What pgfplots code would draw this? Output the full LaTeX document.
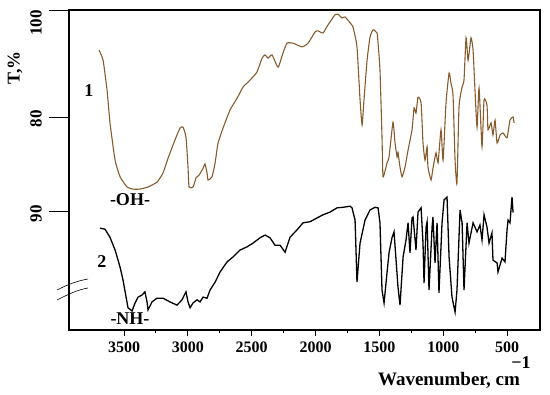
\documentclass[border=0pt]{standalone}
\usepackage{fontspec}
\setmainfont{Liberation Serif}
\usepackage{pgfplots}
\pgfplotsset{compat=1.18}
\definecolor{cbrown}{RGB}{135,92,45}
\begin{document}
\begin{tikzpicture}
\useasboundingbox (-69pt,-65pt) rectangle (481pt,330pt);
\begin{axis}[
  at={(0,0)}, anchor=south west,
  scale only axis, width=471pt, height=320pt,
  x dir=reverse,
  xmin=243, xmax=3931, ymin=40.35, ymax=100.2,
  enlargelimits=false, clip=false,
  xtick={500,1000,1500,2000,2500,3000,3500},
  xticklabels={500,1000,1500,2000,2500,3000,3500},
  minor x tick num=1,
  xtick pos=left, ytick=\empty,
  tick align=outside,
  major tick length=6pt, minor tick length=3pt,
  tick style={line width=1pt, black},
  xticklabel style={font=\bfseries\fontsize{16}{16}\selectfont, yshift=-2pt},
  axis line style={line width=1.6pt},
]
\addplot[cbrown, line width=1.1pt, smooth, tension=0.3] coordinates {
(3696,92.7)(3664,90.8)(3633,85.2)(3610,79.1)(3570,72.1)(3531,69.0)(3476,67.1)(3430,66.7)
(3375,66.7)(3312,67.1)(3242,68.0)(3195,69.7)(3155,72.5)(3101,75.9)(3062,78.1)(3038,78.3)
(3015,76.4)(2999,70.8)(2991,67.1)(2960,67.1)(2936,68.8)(2913,69.3)(2881,70.6)(2866,71.4)
(2850,69.7)(2842,68.4)(2811,69.0)(2787,71.6)(2764,75.3)(2725,78.1)(2670,81.5)(2615,83.7)
(2568,85.8)(2529,86.7)(2490,87.7)(2459,88.6)(2419,91.2)(2396,91.8)(2372,91.2)(2341,91.8)
(2294,89.5)(2255,92.2)(2224,94.0)(2177,94.0)(2106,93.3)(2059,94.0)(2004,96.1)(1981,96.3)
(1942,95.9)(1903,97.4)(1848,99.3)(1824,99.4)(1793,98.7)(1770,98.9)(1730,97.8)(1707,97.0)
(1676,93.3)(1652,83.4)(1636,78.7)(1621,83.4)(1597,90.8)(1574,95.1)(1550,96.5)(1519,95.9)
(1511,94.0)(1496,89.0)(1480,76.4)(1472,69.0)(1441,71.6)(1425,72.7)(1394,79.2)(1378,75.3)
(1362,72.7)(1355,73.6)(1339,70.8)(1323,69.0)(1300,70.8)(1276,74.0)(1245,77.8)(1229,81.9)
(1214,80.9)(1198,83.9)(1174,82.8)(1159,75.3)(1143,72.1)(1127,74.6)(1120,70.8)(1096,68.4)
(1081,70.6)(1057,73.5)(1041,71.6)(1018,77.8)(1002,72.1)(979,82.8)(955,88.4)(940,86.5)
(924,84.3)(908,72.1)(893,67.8)(877,82.1)(853,85.8)(838,87.1)(822,95.0)(806,90.8)
(783,95.0)(767,92.7)(752,85.2)(736,78.3)(720,85.6)(697,74.6)(681,83.4)(658,82.4)
(650,77.8)(626,79.1)(611,76.8)(595,79.6)(579,75.3)(556,76.8)(532,77.2)(501,76.3)
(478,79.6)(454,80.2)(446,79.1)
};
\addplot[black, line width=1.3pt] coordinates {
(3688,59.4)(3649,59.2)(3610,57.7)(3570,55.3)(3531,52.1)(3508,49.7)(3484,46.5)(3469,44.5)
(3437,43.9)(3414,45.4)(3390,46.5)(3359,46.9)(3336,47.5)(3320,45.6)(3312,44.1)(3281,45.6)
(3242,46.3)(3195,46.3)(3140,45.6)(3085,45.0)(3046,46.0)(3015,47.5)(2999,45.6)(2983,44.5)
(2960,45.4)(2928,46.0)(2905,45.6)(2881,46.5)(2850,46.3)(2827,47.8)(2787,49.3)(2748,51.2)
(2693,53.1)(2647,54.0)(2592,55.3)(2537,55.9)(2490,56.6)(2435,57.6)(2396,58.1)(2357,57.6)
(2318,56.2)(2278,56.2)(2239,54.9)(2200,57.7)(2145,59.1)(2098,60.4)(2044,60.6)(1989,61.3)
(1942,61.9)(1887,62.4)(1832,63.2)(1785,63.3)(1730,63.5)(1715,63.2)(1691,60.9)(1676,49.3)
(1652,56.6)(1613,60.9)(1574,62.8)(1535,63.3)(1511,63.2)(1496,60.4)(1480,47.8)(1464,45.4)
(1441,51.0)(1425,54.8)(1402,57.6)(1386,58.7)(1370,53.4)(1355,48.4)(1339,45.0)(1323,51.0)
(1315,54.0)(1292,57.2)(1276,60.4)(1261,54.8)(1245,61.3)(1237,61.5)(1214,55.3)(1198,62.4)
(1174,63.2)(1159,56.6)(1151,49.1)(1135,59.6)(1127,60.6)(1112,47.8)(1088,59.6)(1081,61.5)
(1065,52.9)(1049,60.4)(1034,47.3)(1010,60.4)(994,64.7)(971,65.2)(955,54.0)(932,46.5)
(908,43.7)(893,47.8)(869,62.8)(853,60.4)(838,47.8)(814,60.4)(799,56.6)(767,60.4)
(736,58.7)(713,60.0)(697,57.2)(681,61.9)(658,59.6)(642,56.6)(619,58.5)(611,53.4)
(579,52.9)(572,51.2)(540,53.8)(517,53.1)(501,59.1)(493,60.9)(478,60.4)(462,65.2)(454,62.3)
};
\end{axis}
% y ticks (two scales)
\draw[line width=1pt] (0,319pt) -- ++(-20pt,0);
\draw[line width=1pt] (0,212pt) -- ++(-20pt,0);
\draw[line width=1pt] (0,118pt) -- ++(-20pt,0);
\node[rotate=90, font=\bfseries\fontsize{17}{17}\selectfont] at (-33pt,307pt) {100};
\node[rotate=90, font=\bfseries\fontsize{17}{17}\selectfont] at (-33pt,211pt) {80};
\node[rotate=90, font=\bfseries\fontsize{17}{17}\selectfont] at (-33pt,116pt) {90};
% axis break marks
\draw[line width=0.6pt] (-12pt,40pt) .. controls (0pt,46pt) and (8pt,49pt) .. (19pt,51pt);
\draw[line width=0.6pt] (-12pt,30pt) .. controls (0pt,36pt) and (8pt,40pt) .. (19pt,42pt);
% labels
\node[rotate=90, font=\bfseries\fontsize{18}{18}\selectfont] at (-54pt,262pt) {T,\%};
\node[font=\bfseries\fontsize{18}{18}\selectfont] at (20pt,239pt) {1};
\node[font=\bfseries\fontsize{18}{18}\selectfont] at (33pt,68pt) {2};
\node[font=\bfseries\fontsize{18}{18}\selectfont] at (61pt,130pt) {-OH-};
\node[font=\bfseries\fontsize{18}{18}\selectfont] at (61pt,11pt) {-NH-};
\node[font=\bfseries\fontsize{19}{19}\selectfont] at (380pt,-50pt) {Wavenumber, cm};
\node[font=\bfseries\fontsize{18}{18}\selectfont] at (452pt,-33pt) {\textminus1};
\end{tikzpicture}
\end{document}
